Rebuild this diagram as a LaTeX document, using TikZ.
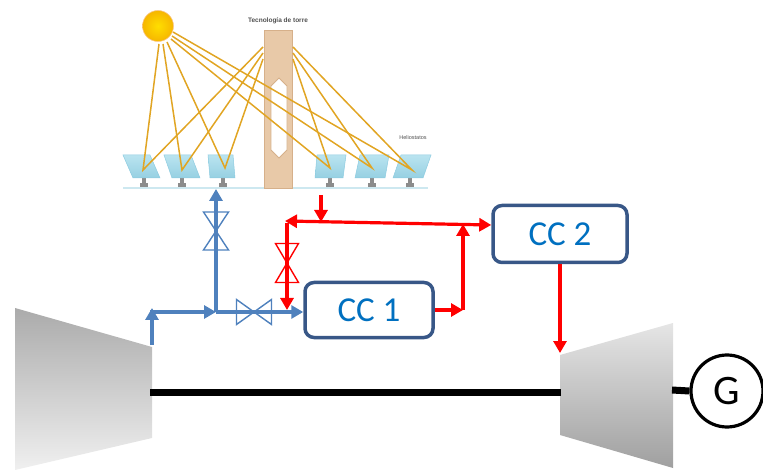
\documentclass[tikz,border=0pt]{standalone}
\usepackage{fontspec}
\newfontfamily\ccfont{Carlito}
\newfontfamily\labelfont{Liberation Sans}
\usetikzlibrary{arrows.meta,calc}
\definecolor{flowblue}{RGB}{79,129,189}
\definecolor{flowred}{RGB}{255,0,0}
\definecolor{ccborder}{RGB}{56,87,135}
\definecolor{cctext}{RGB}{0,112,192}
\definecolor{towertan}{RGB}{232,201,168}
\definecolor{towerline}{RGB}{214,176,138}
\definecolor{panelhi}{RGB}{186,228,240}
\definecolor{panello}{RGB}{150,208,226}
\definecolor{panelline}{RGB}{140,203,224}
\definecolor{standgray}{RGB}{140,140,140}
\definecolor{groundblue}{RGB}{205,232,240}
\definecolor{raygold}{RGB}{225,165,35}
\definecolor{titlegray}{RGB}{80,80,80}
\definecolor{suncore}{RGB}{255,222,0}
\definecolor{sunedge}{RGB}{246,182,0}
\definecolor{sunrim}{RGB}{250,200,140}
\begin{document}
\begin{tikzpicture}[x=1pt,y=-1pt,
  tip/.style={-{Triangle[length=12pt,width=13pt]}},
  blueflow/.style={draw=flowblue,line width=3.2pt,tip},
  redflow/.style={draw=flowred,line width=3.2pt,tip},
  valvebody/.style={draw=none,inner sep=0pt,outer sep=0pt},
  valveblue/.style={draw=flowblue,line width=1.4pt,line join=miter},
  valvered/.style={draw=flowred,line width=1.4pt,line join=miter},
  ccbox/.style={draw=ccborder,line width=3.5pt,rounded corners=9pt,fill=white,
    text=cctext,font=\ccfont\fontsize{35}{40}\selectfont,inner sep=0pt},
  shaft/.style={draw=black,line width=7pt},
  ray/.style={draw=raygold,line width=1.5pt},
  panel/.style={top color=panelhi,bottom color=panello,draw=panelline,line width=0.5pt}]
\useasboundingbox (0,0) rectangle (763,470);

% ---------------- solar field ----------------
\draw[groundblue,line width=1.3pt] (123,188) -- (428,188);
\foreach \c in {144,182,223,330,372,410}{
  \fill[standgray] (\c-1.6,178) rectangle (\c+1.6,183);
  \fill[standgray] (\c-4,183) rectangle (\c+4,187);
}
\path[panel] (123,155) -- (150,155) -- (160,178) -- (133,178) -- cycle;
\path[panel] (164,155) -- (191,155) -- (200,178) -- (172,178) -- cycle;
\path[panel] (208,155) -- (233,155) -- (235,178) -- (210,178) -- cycle;
\path[panel] (317,155) -- (346,155) -- (343,178) -- (315,178) -- cycle;
\path[panel] (360,155) -- (389,155) -- (385,178) -- (355,178) -- cycle;
\path[panel] (401,155) -- (431,155) -- (423,178) -- (393,178) -- cycle;

% tower with receiver slot
\filldraw[fill=towertan,draw=towerline,line width=0.6pt] (264,30) rectangle (292,188);
\filldraw[fill=white,draw=towerline,line width=0.8pt]
  (279,78) -- (287,86) -- (287,150) -- (279,158) -- (271,150) -- (271,86) -- cycle;

% incoming and reflected rays
\draw[ray] (159,44) -- (143,170) -- (263,47);
\draw[ray] (163,44) -- (182,170) -- (263,53);
\draw[ray] (167,42) -- (225,168) -- (263,59);
\draw[ray] (171,39) -- (330,168) -- (293,59);
\draw[ray] (172,36) -- (372,168) -- (293,53);
\draw[ray] (173,32) -- (412,170) -- (293,47);

% sun
\shade[inner color=suncore,outer color=sunedge] (158,26) circle (15.5);
\draw[sunrim,line width=0.6pt] (158,26) circle (15.5);

\node[font=\labelfont\bfseries\fontsize{6.5}{7}\selectfont,text=titlegray] (title) at (278,21) {Tecnología de torre};
\node[font=\labelfont\fontsize{5.5}{6}\selectfont,text=titlegray] (helio) at (413,138) {Heliostatos};

% ---------------- compressor, turbine, generator ----------------
\shade[top color=gray!66,bottom color=gray!12]
  (15,308) -- (152,347) -- (152,438) -- (15,470) -- cycle;
\shade[top color=gray!20,bottom color=gray!75]
  (560,355) -- (673,323) -- (673,468) -- (560,435) -- cycle;

\coordinate (compshaft) at (150,392);
\coordinate (turbshaftin) at (561,392);
\coordinate (turbshaftout) at (672,390);
\node[circle,draw=black,line width=3.2pt,minimum size=72pt,inner sep=0pt,
  font=\ccfont\fontsize{42}{46}\selectfont] (gen) at (727,391) {G};
\draw[shaft] (compshaft) -- (turbshaftin);
\draw[shaft] (turbshaftout) -- (gen.west);

% ---------------- combustion chambers ----------------
\node[ccbox,minimum width=128pt,minimum height=55pt] (cc1) at (369,310) {CC 1};
\node[ccbox,minimum width=134pt,minimum height=57pt] (cc2) at (560,234) {CC 2};

% ---------------- valves ----------------
\node[valvebody,minimum width=25pt,minimum height=38pt] (vup) at (216,231) {};
\node[valvebody,minimum width=35pt,minimum height=25pt] (vcc) at (254,312) {};
\node[valvebody,minimum width=23pt,minimum height=39pt] (vred) at (287,263) {};

% ---------------- air lines (blue) ----------------
\coordinate (compout) at (152,345);
\coordinate (compup) at (152,308);
\coordinate (airleft) at (150,312);
\coordinate (junc) at (216,312);
\coordinate (field) at (216,189);
\draw[blueflow] (compout) -- (compup);
\draw[blueflow] (airleft) -- (junc);
\draw[blueflow] (junc) -- (field);
\draw[blueflow] (junc) -- (cc1.west |- junc);

% ---------------- hot gas lines (red) ----------------
\coordinate (hotin) at (321,195);
\coordinate (hotinend) at (321,222);
\coordinate (hdrleft) at (285,221);
\coordinate (riser) at (463,310);
\coordinate (risertop) at (463,224);
\coordinate (dropfrom) at (287,223);
\coordinate (dropto) at (287,310);
\coordinate (turbin) at (560,353);
\draw[redflow] (hotin) -- (hotinend);
\draw[redflow,{Triangle[length=12pt,width=13pt]}-{Triangle[length=12pt,width=13pt]}]
  (hdrleft) -- ([yshift=9pt]cc2.west);
\draw[redflow] (cc1.east) -- (riser);
\draw[redflow] (riser) -- (risertop);
\draw[redflow] (dropfrom) -- (dropto);
\draw[redflow] (cc2.south) -- (turbin);

% valve bodies drawn over the lines
\draw[valveblue] (vup.north west) -- (vup.north east) -- (vup.south west) -- (vup.south east) -- cycle;
\draw[valveblue] (vcc.north west) -- (vcc.south west) -- (vcc.north east) -- (vcc.south east) -- cycle;
\draw[valvered] (vred.north west) -- (vred.north east) -- (vred.south west) -- (vred.south east) -- cycle;
\end{tikzpicture}
\end{document}
